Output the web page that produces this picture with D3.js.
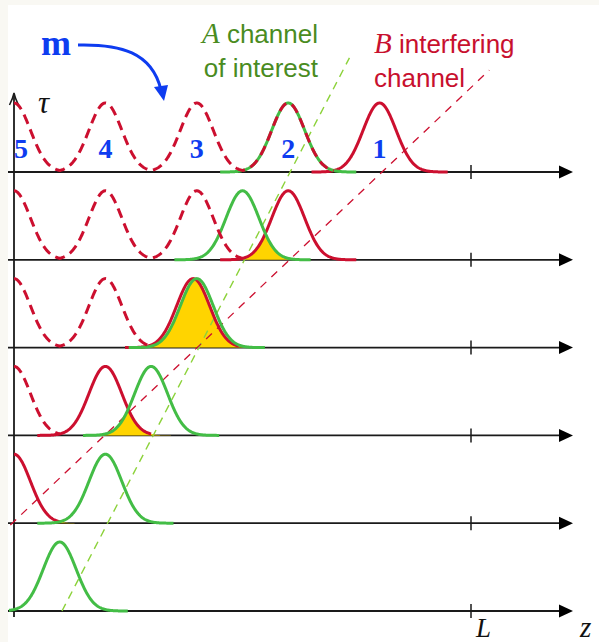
<!DOCTYPE html>
<html>
<head>
<meta charset="utf-8">
<script src="https://cdn.jsdelivr.net/npm/d3@7"></script>
<style>
  html, body { margin: 0; padding: 0; background: #f9f8f3; }
  svg { display: block; }
</style>
</head>
<body>
<svg id="chart"></svg>
<script>
// rows, top to bottom; z in units of the pulse spacing, L = 5
const rowLevels = [5, 4, 3, 2, 1, 0];
const greenCenters = [3.0, 2.5, 2.0, 1.5, 1.0, 0.5];
const redCenters = [4.0, 3.0, 1.96, 1.0, 0.0, null];
const dashedCenters = [[0, 1, 2, 3], [0, 1, 2], [0, 1], [0], [], []];
const pulseNames = ["5", "4", "3", "2", "1"];
const pulseNameZ = [0, 1, 2, 3, 4];
const zTicks = [5];
const zTickLabels = ["L"];
// walk-off tracks as [z, row level] end points
const greenTrack = [[0.525, 0], [3.67, 6.3]];
const redTrack = [[-0.04, 0.98], [5.2, 6.16]];

const W = 599, H = 642;
const sigma = 0.18;
const red = "#cc0f2f", green = "#43bd46", gold = "#ffd400";

const x = d3.scaleLinear().domain([0, 5]).range([14, 471]);
const y = d3.scaleLinear().domain([0, 5]).range([611, 172]);
const amp = d3.scaleLinear().domain([0, 1]).range([0, 69]);

const svg = d3.select("#chart").attr("width", W).attr("height", H);
svg.append("rect").attr("width", W).attr("height", H).attr("fill", "#f9f8f3");
svg.append("rect").attr("x", 8).attr("y", 5).attr("width", W - 8).attr("height", H - 5).attr("fill", "#fff");

const gauss = (z, c) => Math.exp(-((z - c) ** 2) / (2 * sigma * sigma));
const samples = (lo, hi, f) => d3.range(lo, hi + 1e-9, 0.005).map(z => [z, f(z)]);

// axes
const axes = svg.append("g");
rowLevels.forEach(k => {
  const by = y(k);
  axes.append("line").attr("x1", 8).attr("x2", 562).attr("y1", by).attr("y2", by)
    .attr("stroke", "#1a1a1a").attr("stroke-width", 1.8);
  axes.append("path").attr("d", `M559,${by - 6.5}L573,${by}L559,${by + 6.5}Z`).attr("fill", "#000");
  zTicks.forEach(t => {
    axes.append("line").attr("x1", x(t)).attr("x2", x(t)).attr("y1", by - 7).attr("y2", by + 7)
      .attr("stroke", "#1a1a1a").attr("stroke-width", 1.5);
  });
});
axes.append("line").attr("x1", x(0)).attr("x2", x(0)).attr("y1", 617).attr("y2", 94)
  .attr("stroke", "#1a1a1a").attr("stroke-width", 1.8);
axes.append("path").attr("d", `M9.5,105 Q13,98 14,93 Q15,98 18.5,105`)
  .attr("fill", "none").attr("stroke", "#1a1a1a").attr("stroke-width", 1.5);

// overlap of A and B
rowLevels.forEach((k, i) => {
  const c = redCenters[i], g = greenCenters[i];
  if (c === null) return;
  const lo = Math.max(0, c - 0.745, g - 0.745), hi = Math.min(c + 0.745, g + 0.745);
  if (hi <= lo) return;
  const area = d3.area().x(d => x(d[0])).y0(y(k)).y1(d => y(k) - amp(d[1]));
  svg.append("path").attr("d", area(samples(lo, hi, z => Math.min(gauss(z, c), gauss(z, g)))))
    .attr("fill", gold);
});

// walk-off tracks
const track = d3.line().x(d => x(d[0])).y(d => y(d[1]));
svg.append("path").attr("d", track(greenTrack)).attr("fill", "none")
  .attr("stroke", "#8cd23a").attr("stroke-width", 1.4).attr("stroke-dasharray", "8,6");
svg.append("path").attr("d", track(redTrack)).attr("fill", "none")
  .attr("stroke", red).attr("stroke-width", 1.3).attr("stroke-dasharray", "8,7");

// pulses
rowLevels.forEach((k, i) => {
  const line = d3.line().x(d => x(d[0])).y(d => y(k) - amp(d[1]));
  const c = redCenters[i], g = greenCenters[i];
  if (c !== null) {
    const hi = g > c ? c + 0.5 : c + 0.745;
    svg.append("path").attr("d", line(samples(Math.max(0, c - 0.745), hi, z => gauss(z, c))))
      .attr("fill", "none").attr("stroke", red).attr("stroke-width", 3);
  }
  svg.append("path").attr("d", line(samples(Math.max(-0.055, g - 0.745), g + 0.745, z => gauss(z, g))))
    .attr("fill", "none").attr("stroke", green).attr("stroke-width", 3);
  const ds = dashedCenters[i];
  if (ds.length) {
    const f = z => d3.max(ds, d => gauss(z, d));
    svg.append("path").attr("d", line(samples(Math.max(0, ds[0] - 0.5), ds[ds.length - 1] + 0.5, f)))
      .attr("fill", "none").attr("stroke", red).attr("stroke-width", 3).attr("stroke-dasharray", "10,6");
  }
});

// pulse numbers
const blue = "#0e3cf0";
svg.append("g").selectAll("text").data(pulseNames).join("text")
  .attr("x", (d, i) => Math.max(x(pulseNameZ[i]), x(0) + 7))
  .attr("y", 158)
  .attr("text-anchor", "middle")
  .attr("font-family", "Liberation Serif, serif").attr("font-weight", "bold")
  .attr("font-size", 28).attr("fill", blue)
  .text(d => d);

svg.append("text").attr("x", 41).attr("y", 55)
  .attr("font-family", "Liberation Serif, serif").attr("font-weight", "bold")
  .attr("font-size", 36).attr("fill", blue).text("m");
const arc = d3.path();
arc.moveTo(78, 45);
arc.bezierCurveTo(120, 44, 152, 52, 161, 90);
svg.append("path").attr("d", arc.toString()).attr("fill", "none")
  .attr("stroke", blue).attr("stroke-width", 3);
svg.append("path").attr("d", "M154,87 L164,101 L168,85 Z").attr("fill", blue);

// axis labels
const mathFont = "Liberation Serif, serif";
svg.append("text").attr("x", 38).attr("y", 113).attr("font-family", mathFont)
  .attr("font-style", "italic").attr("font-size", 31).attr("fill", "#111").text("τ");
svg.append("g").selectAll("text").data(zTickLabels).join("text")
  .attr("x", (d, i) => x(zTicks[i]) + 5).attr("y", 637)
  .attr("font-family", mathFont).attr("font-style", "italic").attr("font-size", 27)
  .attr("fill", "#111").text(d => d);
svg.append("text").attr("x", 580).attr("y", 637).attr("font-family", mathFont)
  .attr("font-style", "italic").attr("font-size", 29).attr("fill", "#111").text("z");

// channel captions
const sans = "Liberation Sans, Arial, sans-serif";
const tA = svg.append("text").attr("x", 318).attr("y", 43).attr("text-anchor", "end")
  .attr("font-family", sans).attr("font-size", 26).attr("fill", "#4a8c1f");
tA.append("tspan").attr("font-family", mathFont).attr("font-style", "italic").attr("font-size", 29).text("A");
tA.append("tspan").text(" channel");
svg.append("text").attr("x", 318).attr("y", 77).attr("text-anchor", "end")
  .attr("font-family", sans).attr("font-size", 26).attr("fill", "#4a8c1f").text("of interest");

const tB = svg.append("text").attr("x", 374).attr("y", 53)
  .attr("font-family", sans).attr("font-size", 26).attr("fill", "#c8102e");
tB.append("tspan").attr("font-family", mathFont).attr("font-style", "italic").attr("font-size", 29).text("B");
tB.append("tspan").text(" interfering");
svg.append("text").attr("x", 374).attr("y", 87)
  .attr("font-family", sans).attr("font-size", 26).attr("fill", "#c8102e").text("channel");
</script>
</body>
</html>
